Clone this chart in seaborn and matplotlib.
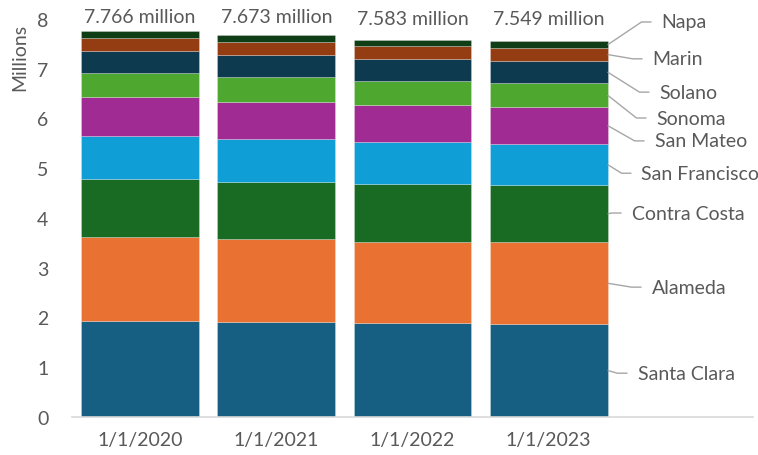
import matplotlib
matplotlib.use("Agg")
import numpy as np
import pandas as pd
import matplotlib.pyplot as plt
import seaborn as sns

# ---------------------------------------------------------------------------
# Data (millions of residents, Bay Area counties)
# ---------------------------------------------------------------------------
years = ["1/1/2020", "1/1/2021", "1/1/2022", "1/1/2023"]
counties = ["Santa Clara", "Alameda", "Contra Costa", "San Francisco",
            "San Mateo", "Sonoma", "Solano", "Marin", "Napa"]

santa_clara = [1.936, 1.910, 1.880, 1.870]
alameda = [1.682, 1.663, 1.645, 1.638]
contra_costa = [1.166, 1.160, 1.156, 1.150]
san_francisco = [0.874, 0.860, 0.843, 0.833]
san_mateo = [0.765, 0.748, 0.738, 0.737]
sonoma = [0.489, 0.490, 0.483, 0.481]
solano = [0.453, 0.450, 0.448, 0.449]
marin = [0.262, 0.258, 0.257, 0.256]
napa = [0.139, 0.134, 0.133, 0.135]

series = [santa_clara, alameda, contra_costa, san_francisco, san_mateo,
          sonoma, solano, marin, napa]

colors = ["#175F82", "#E97132", "#196B24", "#0F9ED5", "#A02B93",
          "#4EA72E", "#0D3A4F", "#953D12", "#0F3D16"]

# label placement beside the last bar (text left x, text centre y, data units)
label_x = [3.652, 3.755, 3.608, 3.681, 3.777, 3.791, 3.813, 3.762, 3.828]
label_y = [0.88, 2.61, 4.10, 4.90, 5.55, 6.01, 6.53, 7.20, 7.94]
total_y = [8.06, 8.06, 8.02, 8.00]

df = pd.DataFrame({"year": years})
for name, vals in zip(counties, series):
    df[name] = vals

# ---------------------------------------------------------------------------
# Aesthetics
# ---------------------------------------------------------------------------
sns.set_style("white")
plt.rcParams["font.family"] = ["Lato", "DejaVu Sans"]
TXT = "#595959"
FS = 14

fig = plt.figure(figsize=(7.58, 4.56), dpi=100)
ax = fig.add_axes([72 / 758, 38 / 456, 681 / 758, 398 / 456])

bottom = np.zeros(len(years))
for name, color in zip(counties, colors):
    sns.barplot(data=df, x="year", y=name, color=color, bottom=bottom,
                width=0.865, errorbar=None, saturation=1,
                edgecolor=(1, 1, 1, 0.35), linewidth=0.5, ax=ax)
    bottom = bottom + df[name].to_numpy()

ax.set_xlim(-0.5, 4.5)
ax.set_ylim(0, 8)
ax.set_yticks(range(0, 9))
ax.set_xlabel("")
ax.set_ylabel("")
for side in ["top", "right", "left"]:
    ax.spines[side].set_visible(False)
ax.spines["bottom"].set_color("#D9D9D9")
ax.spines["bottom"].set_linewidth(1.2)
ax.tick_params(axis="both", length=0, labelsize=FS, labelcolor=TXT)
ax.tick_params(axis="y", pad=17)
ax.tick_params(axis="x", pad=10)

ax.text(-0.077, 0.905, "Millions", transform=ax.transAxes, rotation=90,
        ha="center", va="center", fontsize=FS, color=TXT)

# totals above bars
totals = df[counties].sum(axis=1).to_numpy()
for i, (tot, ty) in enumerate(zip(totals, total_y)):
    ax.text(i, ty, f"{tot:.3f} million", ha="center", va="center",
            fontsize=FS, color=TXT, clip_on=False)

# county labels with leader lines from the last bar
last = len(years) - 1
edge = last + 0.865 / 2
vals_last = df[counties].iloc[last].to_numpy()
mids = np.cumsum(vals_last) - vals_last / 2
step = 10 / 136.5
for name, mid, lx, ly in zip(counties, mids, label_x, label_y):
    ax.plot([edge, lx - 2.0 * step, lx - 1.0 * step], [mid, ly, ly],
            color="#A6A6A6", lw=1, clip_on=False, solid_capstyle="butt")
    ax.text(lx, ly, name, ha="left", va="center", fontsize=FS,
            color=TXT, clip_on=False)

fig.savefig("out.png", dpi=100)
